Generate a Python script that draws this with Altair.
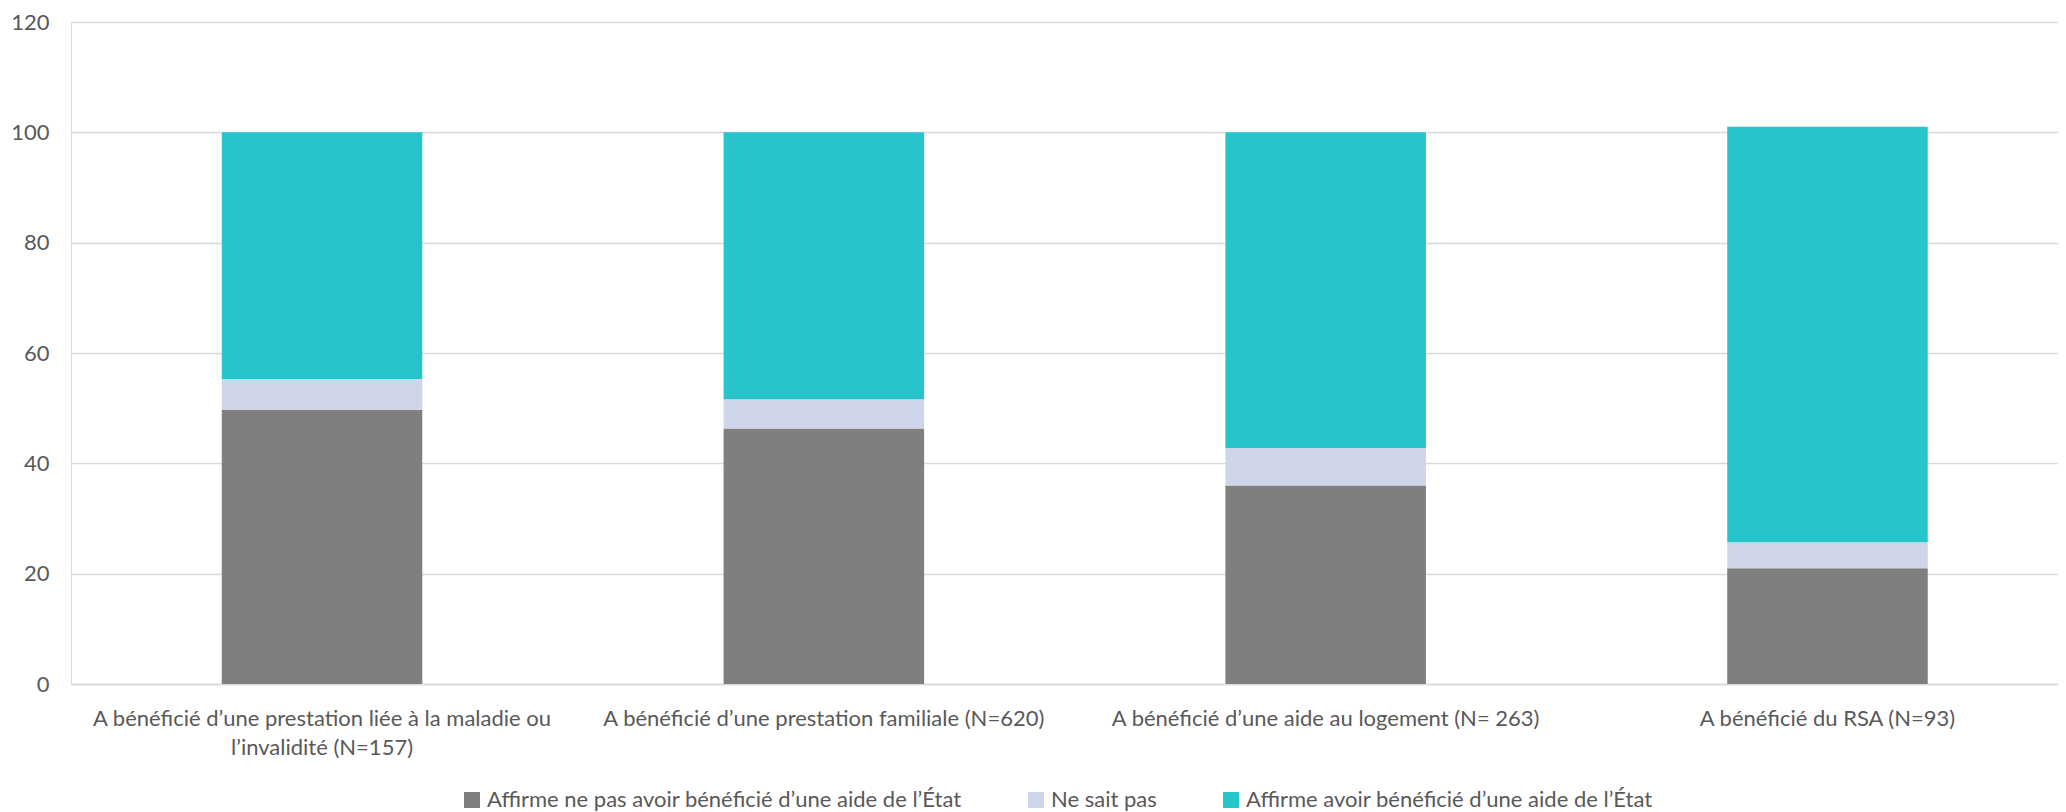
import altair as alt
import pandas as pd

categories = [
    "A bénéficié d’une prestation liée à la maladie ou l’invalidité (N=157)",
    "A bénéficié d’une prestation familiale (N=620)",
    "A bénéficié d’une aide au logement (N= 263)",
    "A bénéficié du RSA (N=93)",
]
series = [
    "Affirme ne pas avoir bénéficié d’une aide de l’État",
    "Ne sait pas",
    "Affirme avoir bénéficié d’une aide de l’État",
]
non_aide = [49.7, 46.3, 36.0, 21.0]
ne_sait_pas = [5.6, 5.3, 6.8, 4.7]
aide = [44.7, 48.4, 57.2, 75.3]
colors = ["#7f7f7f", "#cfd5e8", "#27c4cb"]
y_ticks = [0, 20, 40, 60, 80, 100, 120]

rows = []
for si, (name, vals) in enumerate(zip(series, [non_aide, ne_sait_pas, aide])):
    for c, v in zip(categories, vals):
        rows.append({"cat": c, "serie": name, "val": v, "idx": si})
df = pd.DataFrame(rows)

FONT = "Lato"
label_expr = (
    "datum.label == '" + categories[0] + "' ? "
    "['A bénéficié d’une prestation liée à la maladie ou', 'l’invalidité (N=157)'] : datum.label"
)

chart = (
    alt.Chart(df)
    .mark_bar()
    .encode(
        x=alt.X(
            "cat:N",
            sort=categories,
            title=None,
            scale=alt.Scale(paddingInner=0.6004, paddingOuter=0.28, align=0.5365),
            axis=alt.Axis(
                labelAngle=0,
                labelExpr=label_expr,
                labelFont=FONT,
                labelFontSize=22,
                labelLineHeight=29,
                labelColor="#595959",
                labelPadding=24,
                labelLimit=800,
                ticks=False,
                tickSize=0,
                domain=True,
                domainColor="#d9d9d9",
                domainWidth=1.5,
                grid=False,
            ),
        ),
        y=alt.Y(
            "val:Q",
            stack="zero",
            title=None,
            scale=alt.Scale(domain=[0, 120], nice=False),
            axis=alt.Axis(
                values=y_ticks,
                labelFont=FONT,
                labelFontSize=22,
                labelColor="#595959",
                labelPadding=22,
                ticks=False,
                tickSize=0,
                domain=False,
                grid=True,
                gridColor="#d9d9d9",
                gridWidth=1.5,
                minExtent=58,
                maxExtent=58,
            ),
        ),
        color=alt.Color(
            "serie:N",
            sort=series,
            scale=alt.Scale(domain=series, range=colors),
            legend=alt.Legend(
                title=None,
                orient="none",
                direction="horizontal",
                legendX=390,
                legendY=767,
                symbolType="square",
                symbolSize=256,
                symbolStrokeWidth=0,
                symbolOpacity=1,
                labelFont=FONT,
                labelFontSize=22,
                labelColor="#595959",
                labelOffset=4,
                labelLimit=800,
                columnPadding=63,
                padding=0,
            ),
        ),
        order=alt.Order("idx:Q", sort="ascending"),
    )
    .properties(
        width=1987,
        height=662,
        padding={"left": 63, "top": 14, "right": 0, "bottom": 128},
        autosize=alt.AutoSizeParams(type="none"),
    )
    .configure_view(stroke=None)
    .configure(background="white")
)

chart.save("out.html", embed_options={"renderer": "svg", "actions": False})
